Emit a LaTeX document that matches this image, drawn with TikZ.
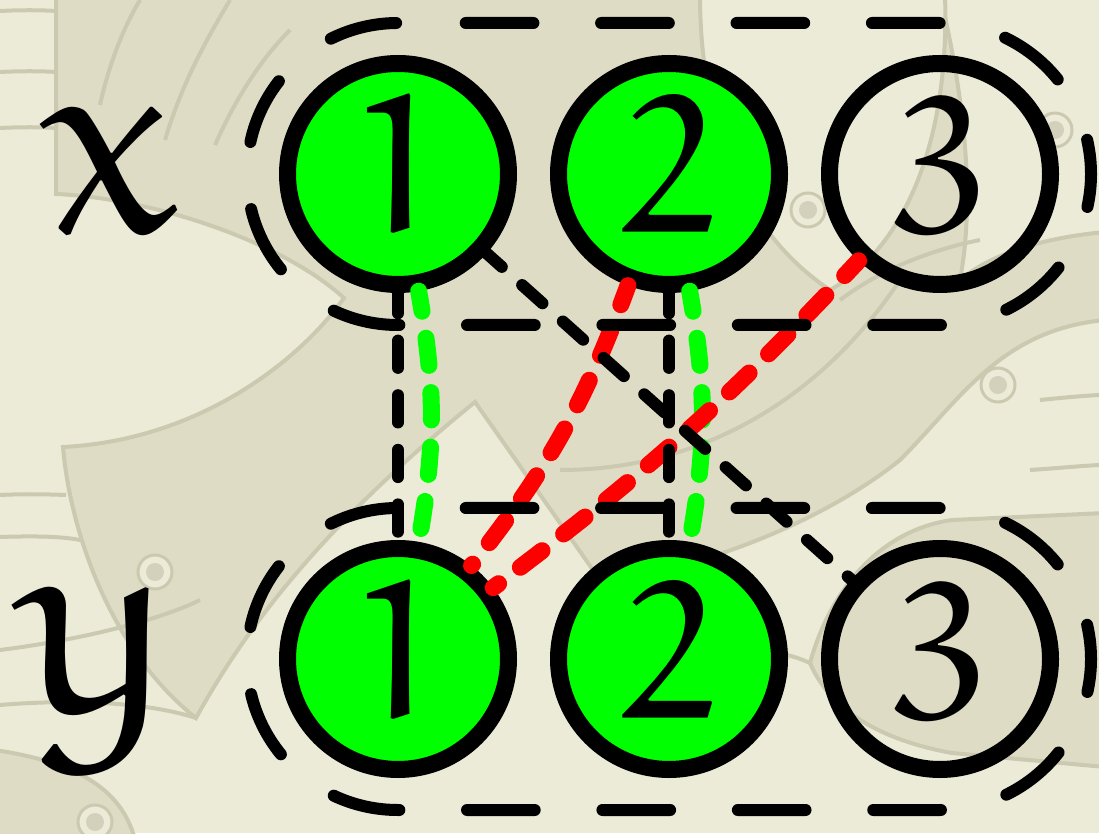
\documentclass[tikz,border=0pt]{standalone}
\usetikzlibrary{calc}
\DeclareFontFamily{U}{myeur}{}
\DeclareFontShape{U}{myeur}{m}{n}{<-> eurm10}{}
\newcommand\eurfont{\fontencoding{U}\fontfamily{myeur}\fontseries{m}\fontshape{n}\selectfont}
\definecolor{bglight}{HTML}{ECEBD7}
\definecolor{bgdark}{HTML}{DEDCC4}
\definecolor{bgline}{HTML}{CBC9B0}
\definecolor{bgeye}{HTML}{D3D1BC}
\definecolor{ngreen}{HTML}{00FF00}
\definecolor{nred}{HTML}{FF0000}
\tikzset{
 vnode/.style={circle, draw=black, line width=17pt, minimum size=221pt, inner sep=0pt,
   text height=133pt, text depth=15pt, font=\fontsize{195}{200}\eurfont},
 filled/.style={fill=ngreen},
 lbl/.style={inner sep=0pt, font=\fontsize{270}{280}\eurfont},
 conn/.style={line width=12pt, line cap=round, dash pattern=on 27.3pt off 27.3pt, dash phase=7pt},
 cconn/.style={conn, line width=17pt},
 stad/.style={line width=12pt, line cap=round, dash pattern=on 67.7pt off 67.7pt, dash phase=67.7pt},
 bgregion/.style={fill=bgdark, draw=bgline, line width=4pt},
 bglightregion/.style={fill=bglight, draw=bgline, line width=4pt},
 bgstroke/.style={draw=bgline, line width=4pt},
 eye/.style={draw=bgline, line width=3pt, fill=bglight},
}
\begin{document}
\begin{tikzpicture}[x=1pt,y=1pt]
\useasboundingbox (0,0) rectangle (1099,833);
\fill[bglight] (0,0) rectangle (1099,833);
\begin{scope}[yshift=833pt,yscale=-1]
 % large dark region: upper part, band to the lower left, arc band to the right
 \path[bgregion] (56,-5) -- (56,194) .. controls (150,198) and (280,240) .. (344,298)
   .. controls (300,360) and (200,440) .. (63,447) .. controls (70,530) and (110,650) .. (196,718)
   .. controls (250,620) and (330,520) .. (475,402) -- (600,580)
   .. controls (650,580) and (800,540) .. (900,460) .. controls (960,400) and (1000,330) .. (1105,320)
   -- (1105,232) .. controls (1040,238) and (990,255) .. (960,280)
   .. controls (975,200) and (965,100) .. (940,-5) -- cycle;
 % light region between the upper nodes 2 and 3
 \path[bglightregion] (700,-5) .. controls (700,120) and (740,230) .. (830,290)
   .. controls (900,250) and (950,150) .. (945,-5) -- cycle;
 % dark blob around the lower right node
 \path[bgregion] (810,663) .. controls (830,590) and (880,530) .. (952,520) -- (1105,513)
   -- (1105,767) -- (952,753) .. controls (880,740) and (830,710) .. (810,663) -- cycle;
 % dark corner bottom left
 \path[bgregion] (-5,750) .. controls (60,760) and (120,780) .. (135,840) -- (-5,840) -- cycle;
 \draw[bgstroke] (0,11) .. controls (20,10) and (40,10) .. (56,11);
 \draw[bgstroke] (0,72) .. controls (20,71) and (40,71) .. (56,72);
 \draw[bgstroke] (0,128) .. controls (20,127) and (40,127) .. (56,128);
 \draw[bgstroke] (0,495) .. controls (20,494) and (40,494) .. (66,495);
 \draw[bgstroke] (0,537) .. controls (30,536) and (60,536) .. (80,540);
 \draw[bgstroke] (100,105) .. controls (110,60) and (125,25) .. (140,0);
 \draw[bgstroke] (165,140) .. controls (180,90) and (200,50) .. (230,0);
 \draw[bgstroke] (215,145) .. controls (235,100) and (260,60) .. (290,30);
 \draw[bgstroke] (560,470) .. controls (700,470) and (820,400) .. (900,280);
 \draw[bgstroke] (840,300) .. controls (880,270) and (930,250) .. (980,240);
 \draw[bgstroke] (1040,400) .. controls (1060,398) and (1080,396) .. (1099,395);
 \draw[bgstroke] (1030,470) .. controls (1060,468) and (1080,466) .. (1099,465);
 \draw[bgstroke] (200,600) .. controls (160,620) and (80,640) .. (0,650);
 \draw[bgstroke] (196,718) .. controls (140,700) and (60,700) .. (0,705);
 \draw[bgstroke] (620,690) .. controls (700,650) and (760,640) .. (810,663);
 \foreach \ex/\ey in {808/210, 998/385, 1055/130, 155/572, 95/822}{
   \path[eye] (\ex,\ey) circle[radius=17];
   \fill[bgeye] (\ex,\ey) circle[radius=9];
 }
\end{scope}

\node[vnode,filled] (x1) at (398,659) {1};
\node[vnode,filled] (x2) at (669,659) {2};
\node[vnode] (x3) at (940,659) {3};
\node[vnode,filled] (y1) at (398,174) {1};
\node[vnode,filled] (y2) at (669,174) {2};
\node[vnode] (y3) at (940,174) {3};
\node[lbl] (lx) at (111,662) {x};
\node[lbl] (ly) at (97,156) {y};

\draw[cconn, ngreen] (x1) to[bend left=10] (y1);
\draw[cconn, ngreen] (x2) to[bend left=10] (y2);
\draw[cconn, nred] (x2) to[bend left=9] (y1);
\draw[cconn, nred] (x3) to[bend left=5] (y1);
\draw[conn] (x1) -- (y1);
\draw[conn] (x2) -- (y2);
\draw[conn] (x1) -- (y3);

\draw[stad] ([yshift=151pt]x1.center) -- ([yshift=151pt]x3.center)
  arc[start angle=90, end angle=-90, radius=151pt] -- ([yshift=-151pt]x1.center)
  arc[start angle=270, end angle=90, radius=151pt] -- cycle;
\draw[stad] ([yshift=151pt]y1.center) -- ([yshift=151pt]y3.center)
  arc[start angle=90, end angle=-90, radius=151pt] -- ([yshift=-151pt]y1.center)
  arc[start angle=270, end angle=90, radius=151pt] -- cycle;
\end{tikzpicture}
\end{document}
